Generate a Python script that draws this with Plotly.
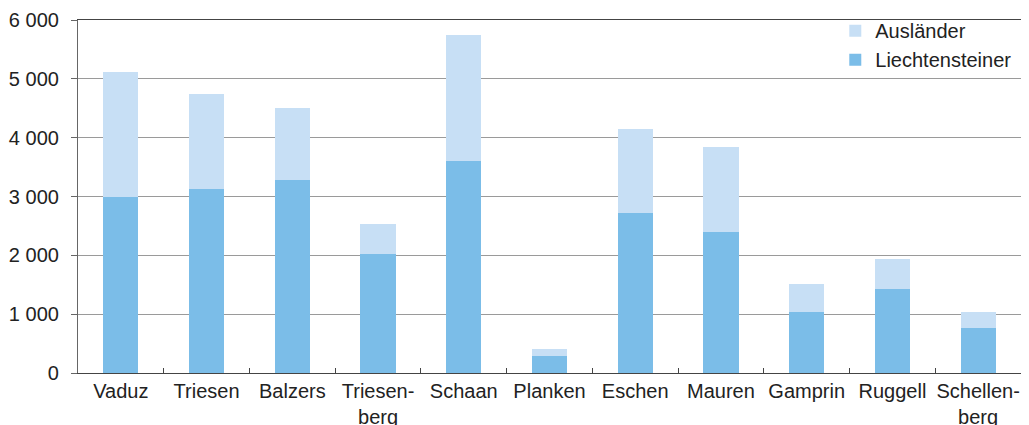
import plotly.graph_objects as go

gemeinden = ["Vaduz", "Triesen", "Balzers", "Triesen-<br>berg", "Schaan", "Planken",
             "Eschen", "Mauren", "Gamprin", "Ruggell", "Schellen-<br>berg"]
liechtensteiner = [2990, 3120, 3280, 2020, 3600, 290, 2720, 2400, 1040, 1430, 770]
gesamt = [5110, 4750, 4510, 2530, 5750, 410, 4140, 3840, 1510, 1940, 1040]
auslaender = [g - l for g, l in zip(gesamt, liechtensteiner)]
y_ticks = [0, 1000, 2000, 3000, 4000, 5000, 6000]

FONT = "Liberation Sans, Arial, sans-serif"

fig = go.Figure()
fig.add_trace(go.Bar(x=gemeinden, y=liechtensteiner, name="Liechtensteiner",
                     marker=dict(color="#7bbde8", line=dict(width=0))))
fig.add_trace(go.Bar(x=gemeinden, y=auslaender, name="Ausländer",
                     marker=dict(color="#c7dff5", line=dict(width=0))))

# page body has an 8px default margin, so the figure is sized to fit the window
fig.update_layout(
    width=1021, height=417,
    barmode="stack", bargap=0.59,
    margin=dict(l=70, r=8, t=12, b=52, autoexpand=False),
    plot_bgcolor="white", paper_bgcolor="white",
    separators=". ",
    font=dict(family=FONT, size=20, color="#222222"),
    showlegend=True,
    legend=dict(x=0.995, y=1.025, xanchor="right", yanchor="top",
                traceorder="reversed", bgcolor="rgba(0,0,0,0)",
                font=dict(size=20), itemwidth=30, tracegroupgap=0),
)
fig.update_xaxes(
    showline=True, linecolor="#444444", linewidth=1.2, mirror=True,
    ticks="inside", tickson="boundaries", ticklen=5, tickcolor="#444444",
    showgrid=False, tickfont=dict(size=20), ticklabelstandoff=0,
    tickangle=0, automargin=False,
)
fig.update_yaxes(
    range=[0, 6000], tickvals=y_ticks, tickformat=",d",
    showline=True, linecolor="#666666", linewidth=1.2, mirror=True,
    ticks="outside", ticklen=6, tickcolor="#666666",
    showgrid=True, gridcolor="#9a9a9a", gridwidth=1.2,
    zeroline=False, tickfont=dict(size=20), ticklabelstandoff=8,
    automargin=False,
)

fig.write_html("out.html")
